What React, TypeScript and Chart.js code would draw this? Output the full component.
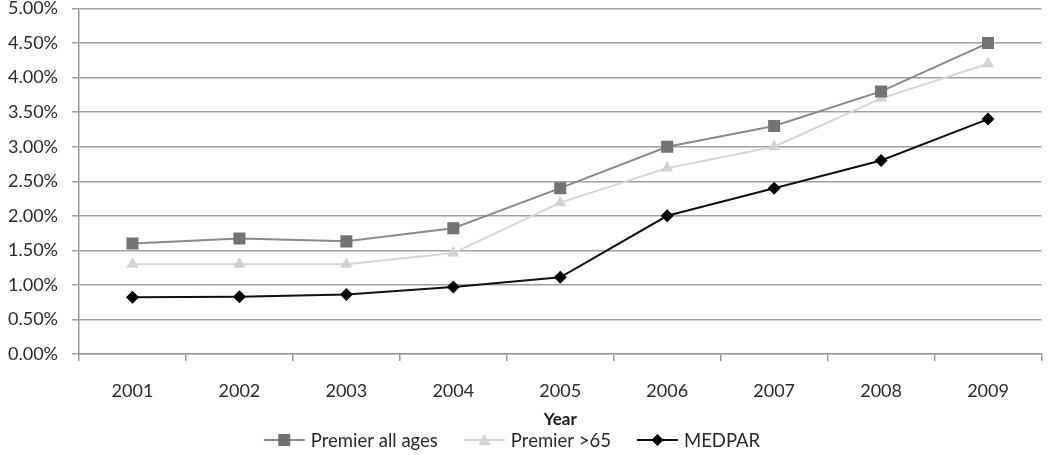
import React, { useEffect, useRef } from "react";
import { Chart, registerables } from "chart.js";

Chart.register(...registerables);

const years = ["2001", "2002", "2003", "2004", "2005", "2006", "2007", "2008", "2009"];
const premierAllAges = [1.6, 1.67, 1.63, 1.82, 2.4, 3.0, 3.3, 3.8, 4.5];
const premierOver65 = [1.3, 1.3, 1.3, 1.46, 2.19, 2.69, 3.0, 3.7, 4.2];
const medpar = [0.82, 0.83, 0.86, 0.97, 1.11, 2.0, 2.4, 2.8, 3.4];
const seriesNames = ["Premier all ages", "Premier >65", "MEDPAR"];
const yMin = 0;
const yMax = 5;
const yStep = 0.5;
const xTitle = "Year";

const FONT = "Lato, 'Open Sans', sans-serif";

const legendPlugin = {
  id: "customLegend",
  afterDraw(chart: any) {
    const ctx = chart.ctx;
    const ds = chart.data.datasets;
    ctx.save();
    ctx.font = `18.5px ${FONT}`;
    const lineLen = 41;
    const gap = 6;
    const itemGap = 26;
    const widths = ds.map((d: any) => lineLen + gap + ctx.measureText(d.label).width);
    const total = widths.reduce((a: number, b: number) => a + b, 0) + itemGap * (ds.length - 1);
    let x = 512 - total / 2;
    const y = 440;
    ds.forEach((d: any, i: number) => {
      ctx.strokeStyle = d.borderColor;
      ctx.lineWidth = d.borderWidth;
      ctx.beginPath();
      ctx.moveTo(x, y);
      ctx.lineTo(x + lineLen, y);
      ctx.stroke();
      const cx = x + lineLen / 2;
      ctx.fillStyle = d.pointBackgroundColor;
      ctx.beginPath();
      if (d.pointStyle === "rect") {
        ctx.rect(cx - 6, y - 6, 12, 12);
      } else if (d.pointStyle === "triangle") {
        ctx.moveTo(cx, y - 6);
        ctx.lineTo(cx + 6, y + 5);
        ctx.lineTo(cx - 6, y + 5);
        ctx.closePath();
      } else {
        ctx.moveTo(cx, y - 6);
        ctx.lineTo(cx + 6, y);
        ctx.lineTo(cx, y + 6);
        ctx.lineTo(cx - 6, y);
        ctx.closePath();
      }
      ctx.fill();
      ctx.fillStyle = "#2a2a2a";
      ctx.textBaseline = "middle";
      ctx.textAlign = "left";
      ctx.fillText(d.label, x + lineLen + gap, y + 1);
      x += widths[i] + itemGap;
    });
    ctx.restore();
  },
};

export default function App() {
  const ref = useRef<HTMLCanvasElement | null>(null);
  useEffect(() => {
    if (!ref.current) return;
    const chart = new Chart(ref.current, {
      type: "line",
      data: {
        labels: years,
        datasets: [
          {
            label: seriesNames[0],
            data: premierAllAges,
            borderColor: "#8a8a8a",
            borderWidth: 2,
            pointStyle: "rect",
            pointRadius: 8.5,
            pointBackgroundColor: "#737373",
            pointBorderColor: "#737373",
            pointBorderWidth: 0,
            tension: 0,
          },
          {
            label: seriesNames[1],
            data: premierOver65,
            borderColor: "#d6d6d6",
            borderWidth: 2,
            pointStyle: "triangle",
            pointRadius: 7,
            pointBackgroundColor: "#d2d2d2",
            pointBorderColor: "#d2d2d2",
            pointBorderWidth: 0,
            tension: 0,
          },
          {
            label: seriesNames[2],
            data: medpar,
            borderColor: "#111111",
            borderWidth: 2,
            pointStyle: "rectRot",
            pointRadius: 6.5,
            pointBackgroundColor: "#000000",
            pointBorderColor: "#000000",
            pointBorderWidth: 0,
            tension: 0,
          },
        ],
      },
      options: {
        animation: false,
        responsive: true,
        maintainAspectRatio: false,
        layout: { padding: { top: 8, left: 0, right: 3, bottom: 25 } },
        plugins: {
          legend: { display: false },
          tooltip: { enabled: false },
        },
        scales: {
          x: {
            type: "category",
            offset: true,
            afterFit(scale: any) {
              scale.height = 76;
            },
            grid: {
              offset: true,
              drawOnChartArea: false,
              drawTicks: true,
              tickLength: 7,
              color: "#9a9a9a",
              lineWidth: 1.5,
            },
            border: { color: "#9a9a9a", width: 1.5 },
            ticks: {
              color: "#2a2a2a",
              font: { family: FONT, size: 18 },
              padding: 19,
              maxRotation: 0,
            },
            title: {
              display: true,
              text: xTitle,
              color: "#1a1a1a",
              font: { family: FONT, size: 17, weight: "bold" },
              padding: { top: 0, bottom: 0 },
            },
          },
          y: {
            min: yMin,
            max: yMax,
            afterFit(scale: any) {
              scale.width = 79;
              scale.paddingTop = 0;
              scale.paddingBottom = 0;
            },
            ticks: {
              stepSize: yStep,
              color: "#2a2a2a",
              font: { family: FONT, size: 18, lineHeight: 1 },
              padding: 14,
              callback: (v: any) => Number(v).toFixed(2) + "%",
            },
            grid: {
              color: "#a0a0a0",
              lineWidth: 1.5,
              tickLength: 7,
            },
            border: { color: "#9a9a9a", width: 1.5 },
          },
        },
      },
      plugins: [legendPlugin],
    });
    return () => chart.destroy();
  }, []);
  return (
    <div style={{ position: "absolute", left: 0, top: 0, width: 1050, height: 455, background: "#fff" }}>
      <canvas ref={ref} />
    </div>
  );
}
